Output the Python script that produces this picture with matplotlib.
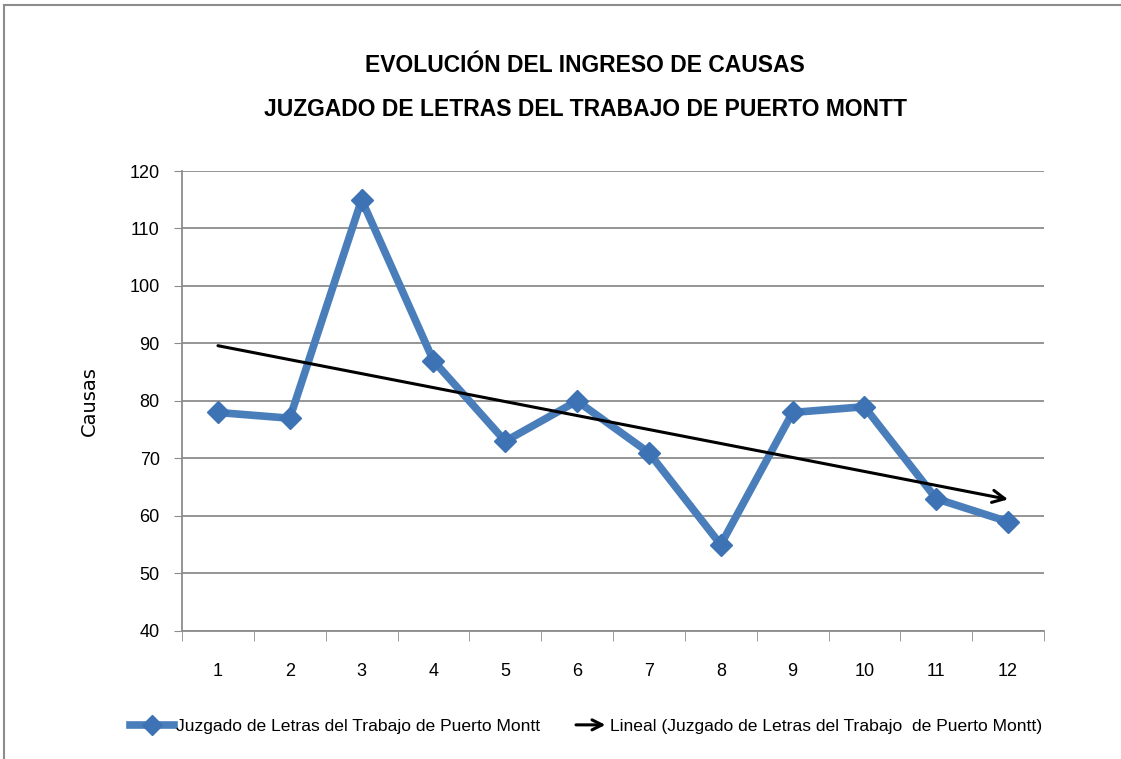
import matplotlib
matplotlib.use("Agg")
import matplotlib.pyplot as plt
import numpy as np
from matplotlib.lines import Line2D
from matplotlib.patches import FancyArrowPatch
from matplotlib.legend_handler import HandlerBase

plt.rcParams["font.family"] = ["Liberation Sans", "DejaVu Sans"]

months = [1, 2, 3, 4, 5, 6, 7, 8, 9, 10, 11, 12]
causas = [78, 77, 115, 87, 73, 80, 71, 55, 78, 79, 63, 59]
title = "EVOLUCIÓN DEL INGRESO DE CAUSAS\nJUZGADO DE LETRAS DEL TRABAJO DE PUERTO MONTT"
series_label = "Juzgado de Letras del Trabajo de Puerto Montt"
trend_label = "Lineal (Juzgado de Letras del Trabajo  de Puerto Montt)"

BLUE = "#4a7ebb"
GRID = "#8c8c8c"

fig = plt.figure(figsize=(11.21, 7.59), dpi=100)
ax = fig.add_axes([0.1624, 0.1687, 0.7689, 0.606])

x = np.arange(len(months))
ax.plot(x, causas, color=BLUE, linewidth=5.5, marker="D", markersize=11,
        markerfacecolor="#3d72b5", markeredgecolor="#3d72b5", zorder=3,
        solid_joinstyle="miter")

# linear trend fitted from the series
slope, icpt = np.polyfit(x, causas, 1)
ax.annotate("", xy=(x[-1], slope * x[-1] + icpt), xytext=(x[0], slope * x[0] + icpt),
            arrowprops=dict(arrowstyle="->", color="black", lw=2.2,
                            mutation_scale=22, shrinkA=0, shrinkB=0), zorder=4)

ax.set_xlim(-0.5, len(months) - 0.5)
ax.set_ylim(40, 120)
ax.set_yticks(np.arange(40, 121, 10))
ax.set_xticks(x)
ax.set_xticklabels([str(m) for m in months])
ax.set_xticks(np.arange(-0.5, len(months), 1), minor=True)
ax.tick_params(axis="x", which="major", length=0, pad=23, labelsize=13)
ax.tick_params(axis="x", which="minor", length=7, color=GRID, direction="out")
ax.tick_params(axis="y", length=6, color=GRID, labelsize=13, pad=10)
ax.yaxis.grid(True, color=GRID, linewidth=1.3)
ax.set_axisbelow(True)
for s in ["top", "right"]:
    ax.spines[s].set_visible(False)
for s in ["left", "bottom"]:
    ax.spines[s].set_color(GRID)
    ax.spines[s].set_linewidth(1.3)
ax.set_ylabel("Causas", fontsize=14, family="DejaVu Sans", labelpad=22)

fig.text(0.522, 0.885, title, ha="center", va="center", fontsize=16.5,
         fontweight="bold", linespacing=2.15)


class ArrowHandler(HandlerBase):
    def create_artists(self, legend, orig, xd, yd, w, h, fs, trans):
        a = FancyArrowPatch((-xd + w * 0.2, h / 2 - yd), (-xd + w, h / 2 - yd),
                            arrowstyle="->", mutation_scale=18, lw=2.2,
                            color="black", transform=trans)
        return [a]


h1 = Line2D([], [], color=BLUE, linewidth=5.5, marker="D", markersize=10,
            markerfacecolor="#3d72b5", markeredgecolor="#3d72b5")
h2 = Line2D([], [], color="black")
fig.legend([h1, h2], [series_label, trend_label], loc="center",
           bbox_to_anchor=(0.523, 0.043), ncol=2, frameon=False, fontsize=12.6,
           handlelength=2.5, handletextpad=0.1, columnspacing=1.4,
           handler_map={h2: ArrowHandler()})

# chart area border (only top and left visible in the crop)
fig.add_artist(Line2D([0.004, 0.004], [0.0, 0.993], transform=fig.transFigure,
                      color=GRID, linewidth=1.5))
fig.add_artist(Line2D([0.004, 1.0], [0.993, 0.993], transform=fig.transFigure,
                      color=GRID, linewidth=1.5))

fig.savefig("out.png", dpi=100)
